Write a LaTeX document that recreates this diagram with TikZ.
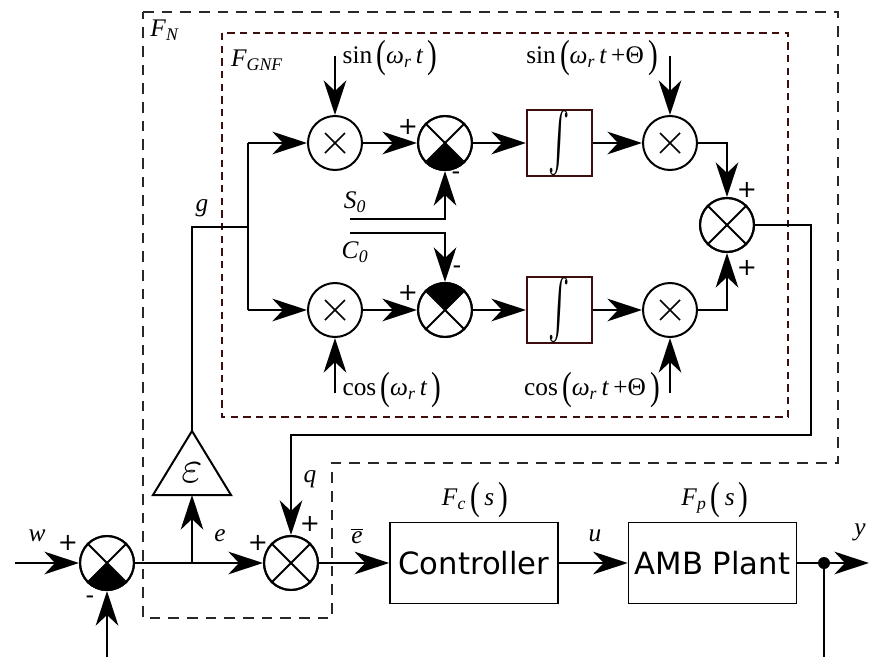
\documentclass[tikz,border=0pt]{standalone}
\usepackage{fontspec}
\setmainfont{Liberation Serif}
\newfontfamily\sansf{DejaVu Sans}
\usetikzlibrary{arrows.meta}
\definecolor{dred}{RGB}{60,14,14}
\definecolor{dgray}{RGB}{40,40,40}
\newcommand\Lp{\raisebox{-0.15em}{\scalebox{1.15}[1.55]{(}}}
\newcommand\Rp{\raisebox{-0.15em}{\scalebox{1.15}[1.55]{)}}}
\newcommand\omrt{\textit{ω}\textsubscript{\textit{r}}\,\textit{t}}
\newcommand\intsym{\scalebox{2.4}[4.4]{$\int$}}
\begin{document}
\begin{tikzpicture}[x=0.75pt,y=-0.75pt,line width=1.5pt,
  >={Stealth[length=26pt,width=17pt,inset=8pt]},
  circ/.style={circle,draw,minimum size=40.5pt,inner sep=0pt,line width=1.5pt},
  intbox/.style={draw=dred,line width=1.5pt,minimum width=48.75pt,minimum height=42pt,inner sep=0pt},
  blk/.style={draw,line width=1.2pt,minimum width=126pt,minimum height=60.75pt,inner sep=0pt,font=\sansf\fontsize{23}{26}\selectfont},
  lab/.style={font=\fontsize{19}{22}\selectfont,inner sep=0pt},
  sgn/.style={font=\sansf\fontsize{18}{20}\selectfont,inner sep=0pt},
  outerdash/.style={draw=dgray,line width=1.2pt,dash pattern=on 8pt off 6pt},
  innerdash/.style={draw=dred,line width=1.5pt,dash pattern=on 5.5pt off 4pt}]
\useasboundingbox (0,0) rectangle (869,657);
% dashed boxes
\draw[outerdash] (143,12) -- (838,12) -- (838,463) -- (332,463) -- (332,618) -- (143,618) -- cycle;
\draw[innerdash] (222,33) rectangle (788,417);
% nodes
\node[circ] (m1) at (335,143) {};
\node[circ] (s1) at (445,143) {};
\node[intbox] (i1) at (559.5,143) {\intsym};
\node[circ] (m3) at (670,143) {};
\node[circ] (m2) at (335,310) {};
\node[circ] (s2) at (445,310) {};
\node[intbox] (i2) at (559.5,310) {\intsym};
\node[circ] (m4) at (670,310) {};
\node[circ] (sF) at (727,225) {};
\node[circ] (sL) at (107,563) {};
\node[circ] (sE) at (291,563) {};
\node[blk] (ctrl) at (474,563) {Controller};
\node[blk] (plant) at (712.5,563) {AMB Plant};
% multipliers
\foreach \n in {m1,m2,m3,m4}{
  \draw[line width=1.2pt] (\n.center) ++(-10,-10) -- ++(20,20);
  \draw[line width=1.2pt] (\n.center) ++(10,-10) -- ++(-20,20);
}
% fills
\fill (s1.center) -- (s1.225) arc[start angle=225,end angle=315,radius=20.25pt] -- cycle;
\fill (sL.center) -- (sL.225) arc[start angle=225,end angle=315,radius=20.25pt] -- cycle;
\fill (s2.center) -- (s2.45) arc[start angle=45,end angle=135,radius=20.25pt] -- cycle;
\foreach \n in {s1,s2,sF,sL,sE}{
  \draw (\n.45) -- (\n.225);
  \draw (\n.135) -- (\n.315);
  \draw (\n) circle[radius=20.25pt];
}
% triangle
\coordinate (triT) at (192,431);
\coordinate (triB) at (192,495);
\draw[line width=1.5pt] (153,495) -- (triT) -- (231,495) -- cycle;
\node[inner sep=0pt] (eps) at (192,473) {\scalebox{3.4}{$\varepsilon$}};
% coordinates
\coordinate (win) at (15,563);
\coordinate (fbB) at (107,657);
\coordinate (brE) at (192,563);
\coordinate (gC) at (192,227);
\coordinate (gT) at (248,227);
\coordinate (vTop) at (248,143);
\coordinate (vBot) at (248,310);
\coordinate (sinA) at (335,56);
\coordinate (sinB) at (670,56);
\coordinate (cosA) at (335,393);
\coordinate (cosB) at (670,393);
\coordinate (S0a) at (350,219);
\coordinate (S0b) at (445,219);
\coordinate (C0a) at (350,233);
\coordinate (C0b) at (445,233);
\coordinate (cTop) at (727,143);
\coordinate (cBot) at (727,310);
\coordinate (r1) at (811,225);
\coordinate (r2) at (811,435);
\coordinate (r3) at (291,435);
\coordinate (dot) at (824,563);
\coordinate (yout) at (869,563);
\coordinate (dotB) at (824,657);
% connectors
\draw[->] (win) -- (sL.west);
\draw[->] (fbB) -- (sL.south);
\draw[->] (sL.east) -- (sE.west);
\draw[->] (brE) -- (triB);
\draw (triT) -- (gC) -- (gT);
\draw (vTop) -- (vBot);
\draw[->] (vTop) -- (m1.west);
\draw[->] (vBot) -- (m2.west);
\draw[->] (sinA) -- (m1.north);
\draw[->] (sinB) -- (m3.north);
\draw[->] (cosA) -- (m2.south);
\draw[->] (cosB) -- (m4.south);
\draw[->] (m1.east) -- (s1.west);
\draw[->] (m2.east) -- (s2.west);
\draw[->] (s1.east) -- (i1.west);
\draw[->] (s2.east) -- (i2.west);
\draw[->] (i1.east) -- (m3.west);
\draw[->] (i2.east) -- (m4.west);
\draw[->] (m3.east) -- (cTop) -- (sF.north);
\draw[->] (m4.east) -- (cBot) -- (sF.south);
\draw[->,line width=1.2pt] (S0a) -- (S0b) -- (s1.south);
\draw[->,line width=1.2pt] (C0a) -- (C0b) -- (s2.north);
\draw[->] (sF.east) -- (r1) -- (r2) -- (r3) -- (sE.north);
\draw[->] (sE.east) -- (ctrl.west);
\draw[->] (ctrl.east) -- (plant.west);
\draw[->] (plant.east) -- (yout);
\draw (dot) -- (dotB);
\fill (dot) circle[radius=4.5pt];
% labels
\node[lab] (lFN) at (165,30) {\textit{F}\textsubscript{\textit{N}}};
\node[lab] (lFG) at (257,60) {\textit{F}\textsubscript{\textit{GNF}}};
\node[lab] (lg) at (202,208) {\textit{g}};
\node[lab] (lsin1) at (390,58) {sin\,\Lp\omrt\,\Rp};
\node[lab] (lsin2) at (592,58) {sin\,\Lp\omrt\,+Θ\,\Rp};
\node[lab] (lcos1) at (392,390) {cos\,\Lp\omrt\,\Rp};
\node[lab] (lcos2) at (592,390) {cos\,\Lp\omrt\,+Θ\,\Rp};
\node[lab] (lS0) at (355,202) {\textit{S}\textsubscript{\textit{0}}};
\node[lab] (lC0) at (355,252) {\textit{C}\textsubscript{\textit{0}}};
\node[sgn] (p1) at (408,127) {+};
\node[sgn] (n1) at (456,176) {-};
\node[sgn] (p2) at (408,293) {+};
\node[sgn] (n2) at (457,270) {-};
\node[sgn] (p3) at (747,190) {+};
\node[sgn] (p4) at (747,268) {+};
\node[lab] (lw) at (37,536) {\textit{w}};
\node[sgn] (p5) at (68,543) {+};
\node[sgn] (n5) at (90,600) {-};
\node[lab] (le) at (220,536) {\textit{e}};
\node[sgn] (p6) at (258,543) {+};
\node[lab] (lq) at (310,479) {\textit{q}};
\node[sgn] (p7) at (310,524) {+};
\node[lab] (leb) at (357,536) {$\overline{\mbox{\textit{e}}}$};
\node[lab] (lu) at (595,536) {\textit{u}};
\node[lab] (ly) at (860,532) {\textit{y}};
\node[lab] (lFc) at (475,500) {\textit{F}\textsubscript{\textit{c}}\,\Lp\,\textit{s}\,\Rp};
\node[lab] (lFp) at (715,500) {\textit{F}\textsubscript{\textit{p}}\,\Lp\,\textit{s}\,\Rp};
\end{tikzpicture}
\end{document}
